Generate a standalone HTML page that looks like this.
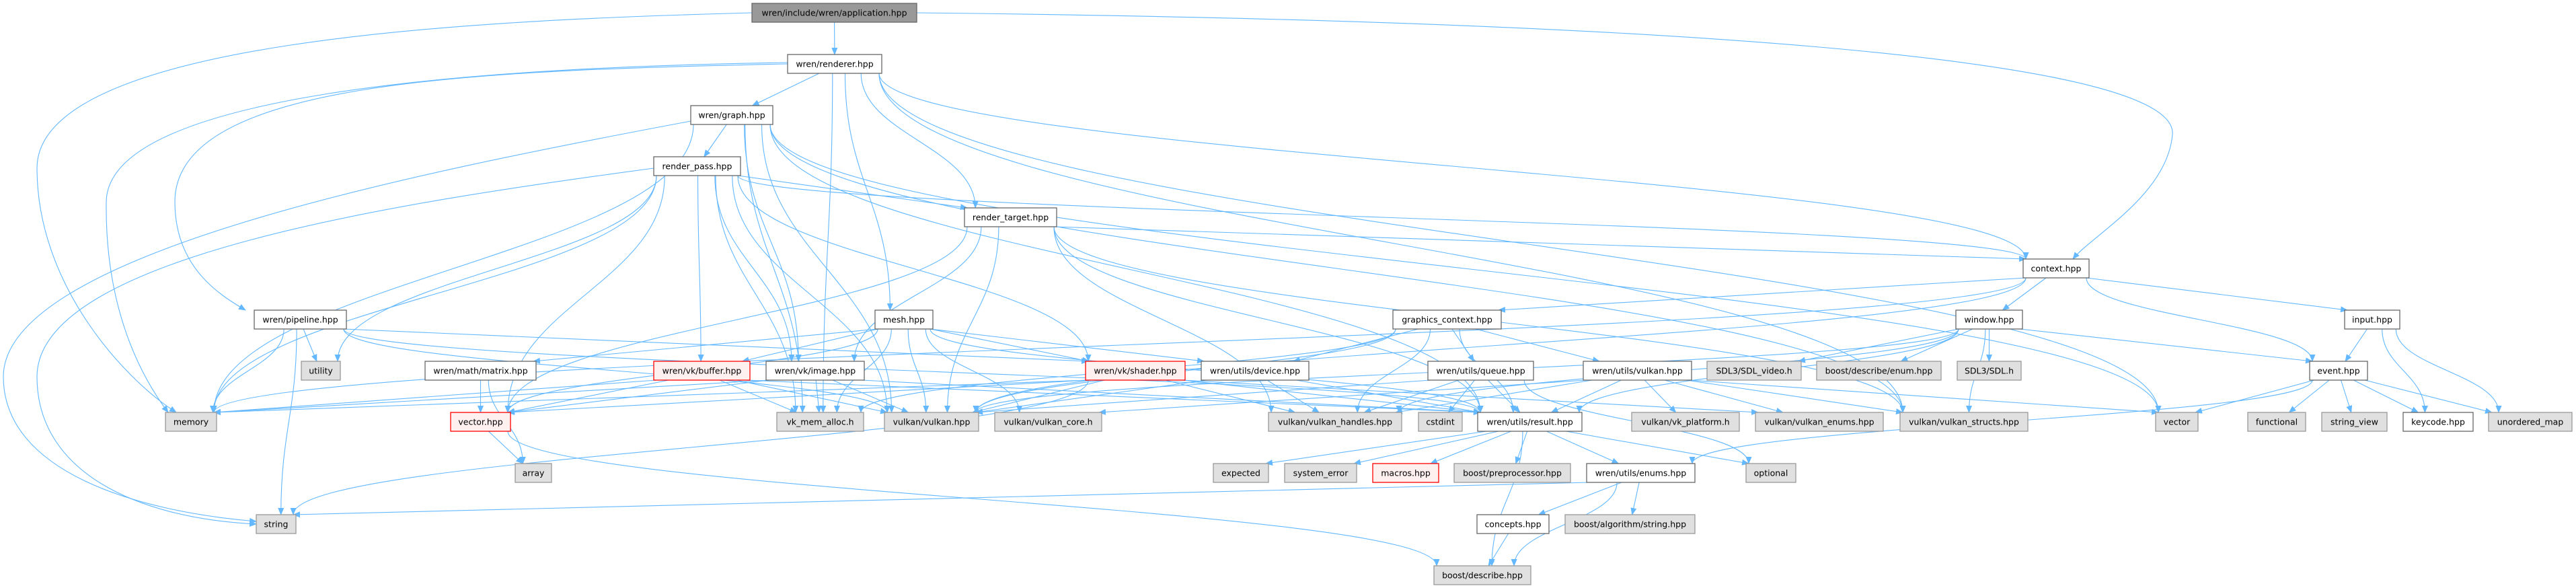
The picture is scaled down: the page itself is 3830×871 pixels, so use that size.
<!DOCTYPE html>
<html><head><meta charset="utf-8"><style>
html,body{margin:0;padding:0;background:#fff;}
svg{display:block;}
text{font-family:"DejaVu Sans","Liberation Sans",sans-serif;font-size:12.5px;fill:#000;text-anchor:middle;dominant-baseline:central;}
.w{fill:#fff;stroke:#666;stroke-width:1.3}
.g{fill:#e0e0e0;stroke:#999;stroke-width:1.3}
.r{fill:#fff0f0;stroke:#ff0000;stroke-width:1.3}
.root{fill:#999;stroke:#666;stroke-width:1.3}
#edges path{fill:none;stroke:#63b8ff;stroke-width:1.1}
</style></head><body>
<svg id="s" width="3830" height="871" viewBox="0 0 3830 871" xmlns="http://www.w3.org/2000/svg">
<defs><marker id="a" markerWidth="11" markerHeight="9" refX="10" refY="4.5" orient="auto" markerUnits="userSpaceOnUse"><path d="M0,0 L11,4.5 L0,9 z" fill="#63b8ff"/></marker></defs>
<g id="edges"></g>
<g id="nodes">
<rect class="root" x="1118" y="5" width="245" height="28"/><text x="1240.5" y="19">wren/include/wren/application.hpp</text>
<rect class="w" x="1171" y="81" width="140" height="28"/><text x="1241" y="95">wren/renderer.hpp</text>
<rect class="w" x="1027" y="157" width="122" height="28"/><text x="1088" y="171">wren/graph.hpp</text>
<rect class="w" x="972" y="233" width="129" height="28"/><text x="1036.5" y="247">render_pass.hpp</text>
<rect class="w" x="1434" y="309" width="137" height="28"/><text x="1502.5" y="323">render_target.hpp</text>
<rect class="w" x="3008" y="385" width="98" height="28"/><text x="3057" y="399">context.hpp</text>
<rect class="w" x="378" y="461" width="137" height="28"/><text x="446.5" y="475">wren/pipeline.hpp</text>
<rect class="w" x="1301" y="461" width="86" height="28"/><text x="1344" y="475">mesh.hpp</text>
<rect class="w" x="2071" y="461" width="161" height="28"/><text x="2151.5" y="475">graphics_context.hpp</text>
<rect class="w" x="2908" y="461" width="99" height="28"/><text x="2957.5" y="475">window.hpp</text>
<rect class="w" x="3486" y="461" width="82" height="28"/><text x="3527" y="475">input.hpp</text>
<rect class="g" x="448" y="537" width="58" height="28"/><text x="477" y="551">utility</text>
<rect class="w" x="632" y="537" width="165" height="28"/><text x="714.5" y="551">wren/math/matrix.hpp</text>
<rect class="r" x="972" y="537" width="143" height="28"/><text x="1043.5" y="551">wren/vk/buffer.hpp</text>
<rect class="w" x="1139" y="537" width="146" height="28"/><text x="1212" y="551">wren/vk/image.hpp</text>
<rect class="r" x="1614" y="537" width="148" height="28"/><text x="1688" y="551">wren/vk/shader.hpp</text>
<rect class="w" x="1786" y="537" width="160" height="28"/><text x="1866" y="551">wren/utils/device.hpp</text>
<rect class="w" x="2123" y="537" width="157" height="28"/><text x="2201.5" y="551">wren/utils/queue.hpp</text>
<rect class="w" x="2354" y="537" width="161" height="28"/><text x="2434.5" y="551">wren/utils/vulkan.hpp</text>
<rect class="g" x="2538" y="537" width="140" height="28"/><text x="2608" y="551">SDL3/SDL_video.h</text>
<rect class="g" x="2701" y="537" width="185" height="28"/><text x="2793.5" y="551">boost/describe/enum.hpp</text>
<rect class="g" x="2910" y="537" width="95" height="28"/><text x="2957.5" y="551">SDL3/SDL.h</text>
<rect class="w" x="3434" y="537" width="86" height="28"/><text x="3477" y="551">event.hpp</text>
<rect class="g" x="246" y="613" width="76" height="28"/><text x="284" y="627">memory</text>
<rect class="r" x="670" y="613" width="89" height="28"/><text x="714.5" y="627">vector.hpp</text>
<rect class="g" x="1155" y="613" width="129" height="28"/><text x="1219.5" y="627">vk_mem_alloc.h</text>
<rect class="g" x="1315" y="613" width="140" height="28"/><text x="1385" y="627">vulkan/vulkan.hpp</text>
<rect class="g" x="1479" y="613" width="159" height="28"/><text x="1558.5" y="627">vulkan/vulkan_core.h</text>
<rect class="g" x="1886" y="613" width="198" height="28"/><text x="1985" y="627">vulkan/vulkan_handles.hpp</text>
<rect class="g" x="2109" y="613" width="65" height="28"/><text x="2141.5" y="627">cstdint</text>
<rect class="w" x="2197" y="613" width="155" height="28"/><text x="2274.5" y="627">wren/utils/result.hpp</text>
<rect class="g" x="2426" y="613" width="160" height="28"/><text x="2506" y="627">vulkan/vk_platform.h</text>
<rect class="g" x="2610" y="613" width="190" height="28"/><text x="2705" y="627">vulkan/vulkan_enums.hpp</text>
<rect class="g" x="2825" y="613" width="190" height="28"/><text x="2920" y="627">vulkan/vulkan_structs.hpp</text>
<rect class="g" x="3205" y="613" width="63" height="28"/><text x="3236.5" y="627">vector</text>
<rect class="g" x="3342" y="613" width="86" height="28"/><text x="3385" y="627">functional</text>
<rect class="g" x="3452" y="613" width="97" height="28"/><text x="3500.5" y="627">string_view</text>
<rect class="w" x="3573" y="613" width="104" height="28"/><text x="3625" y="627">keycode.hpp</text>
<rect class="g" x="3700" y="613" width="124" height="28"/><text x="3762" y="627">unordered_map</text>
<rect class="g" x="766" y="689" width="54" height="28"/><text x="793" y="703">array</text>
<rect class="g" x="1804" y="689" width="82" height="28"/><text x="1845" y="703">expected</text>
<rect class="g" x="1910" y="689" width="107" height="28"/><text x="1963.5" y="703">system_error</text>
<rect class="r" x="2041" y="689" width="98" height="28"/><text x="2090" y="703">macros.hpp</text>
<rect class="g" x="2162" y="689" width="173" height="28"/><text x="2248.5" y="703">boost/preprocessor.hpp</text>
<rect class="w" x="2359" y="689" width="161" height="28"/><text x="2439.5" y="703">wren/utils/enums.hpp</text>
<rect class="g" x="2596" y="689" width="74" height="28"/><text x="2633" y="703">optional</text>
<rect class="g" x="381" y="765" width="59" height="28"/><text x="410.5" y="779">string</text>
<rect class="w" x="2196" y="765" width="107" height="28"/><text x="2249.5" y="779">concepts.hpp</text>
<rect class="g" x="2327" y="765" width="193" height="28"/><text x="2423.5" y="779">boost/algorithm/string.hpp</text>
<rect class="g" x="2132" y="841" width="144" height="28"/><text x="2204" y="855">boost/describe.hpp</text>
</g>
</svg>
<script>
var N={app:[1118,1363,0],ren:[1171,1311,1],gr:[1027,1149,2],rp:[972,1101,3],rt:[1434,1571,4],ctx:[3008,3106,5],
pl:[378,515,6],mesh:[1301,1387,6],gc:[2071,2232,6],win:[2908,3007,6],inp:[3486,3568,6],
ut:[448,506,7],mat:[632,797,7],buf:[972,1115,7],img:[1139,1285,7],sh:[1614,1762,7],dev:[1786,1946,7],q:[2123,2280,7],uv:[2354,2515,7],sdlv:[2538,2678,7],den:[2701,2886,7],sdl:[2910,3005,7],ev:[3434,3520,7],
mem:[246,322,8],vh:[670,759,8],vma:[1155,1284,8],vk:[1315,1455,8],vc:[1479,1638,8],vhd:[1886,2084,8],ci:[2109,2174,8],res:[2197,2352,8],vp:[2426,2586,8],ve:[2610,2800,8],vs:[2825,3015,8],vec:[3205,3268,8],fn:[3342,3428,8],sv:[3452,3549,8],kc:[3573,3677,8],um:[3700,3824,8],
arr:[766,820,9],exp:[1804,1886,9],se:[1910,2017,9],mac:[2041,2139,9],pp:[2162,2335,9],en:[2359,2520,9],opt:[2596,2670,9],
str:[381,440,10],con:[2196,2303,10],alg:[2327,2520,10],desc:[2132,2276,11]};
var E={app:"ren ctx mem",ren:"gr mesh rt pl mem ctx vma vs vec",gr:"rp mem str vec img vk res vs vma",
rp:"rt buf img sh mem str ut vh vk ctx vma",rt:"ctx img vh vk vhd vs res",ctx:"gc win inp ev mem vk",
pl:"mem str ut sh vk res",mesh:"buf sh dev mat vh vma vk vc res",gc:"dev q uv vk vma vhd res",
win:"sdlv den sdl ev vk vhd res vs",inp:"ev kc um",buf:"mem vh vma vk res",img:"vma vk res vh mem",
sh:"vk vhd str res ve vh mem",dev:"vhd vk res",q:"ci res vhd vk opt",uv:"vp res ve vs vhd vec vc",
ev:"vec fn sv kc um en",mat:"vh arr",vh:"arr desc",res:"exp se mac pp en opt desc",en:"str con alg desc",con:"desc"};
var O={
"app-mem":"M1118,19 C700,30 55,60 55,250 C55,420 180,560 262,613",
"app-ctx":"M1363,19 C2400,30 3240,80 3230,200 C3222,290 3110,350 3082,385",
"ren-pl":"M1171,95 C700,105 260,120 260,300 C260,400 330,440 365,461",
"ren-mem":"M1171,93 C700,100 160,140 158,300 C156,460 210,560 250,613",
"gr-str":"M1027,180 C600,260 5,380 5,560 C5,700 200,760 381,775",
"rp-str":"M972,250 C600,300 55,380 55,560 C55,700 200,770 381,779"
};
var g=document.getElementById("edges"),ns="http://www.w3.org/2000/svg";
for(var s in E){E[s].split(" ").forEach(function(t){var a=N[s],b=N[t];
var sc=(a[0]+a[1])/2,hw=(a[1]-a[0])/2-4,tc=(b[0]+b[1])/2;
var sx=sc+Math.max(-hw,Math.min(hw,(tc-sc)*0.15)),sy=5+76*a[2]+28;
var tw=(b[1]-b[0])/2-4,tx=tc+Math.max(-tw,Math.min(tw,(sc-tc)*0.2)),ty=5+76*b[2];
var dy=ty-sy,d;
if(O[s+"-"+t]){d=O[s+"-"+t];}
else if(b[2]-a[2]<=1){d="M"+sx+","+sy+" L"+tx+","+ty;}
else{d="M"+sx+","+sy+" C"+sx+","+(sy+dy*0.45)+" "+tx+","+(ty-dy*0.45)+" "+tx+","+ty;}
var p=document.createElementNS(ns,"path");p.setAttribute("d",d);p.setAttribute("marker-end","url(#a)");g.appendChild(p);});}
</script>
</body></html>
